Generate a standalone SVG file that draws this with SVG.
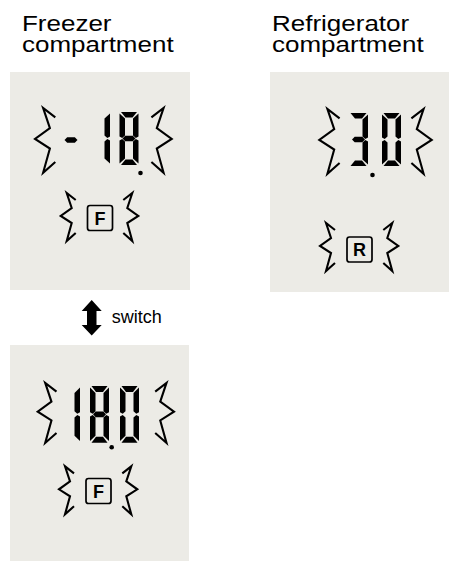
<svg xmlns="http://www.w3.org/2000/svg" xmlns:xlink="http://www.w3.org/1999/xlink" width="449" height="561" viewBox="0 0 449 561">
<style>
.panel{fill:#ecebe6;stroke:none}
.head{font-family:"Liberation Sans",Arial,sans-serif;font-size:22.6px;fill:#000}
.lbl{font-family:"Liberation Sans",Arial,sans-serif;font-size:18px;fill:#000}
.zig{fill:none;stroke:#000;stroke-width:2.1;stroke-linejoin:miter;stroke-miterlimit:10}
.box{fill:none;stroke:#000;stroke-width:1.7}
.key{font-family:"Liberation Sans",Arial,sans-serif;font-size:18px;font-weight:bold;fill:#000;text-anchor:middle}
.seg{fill:#000}
</style>
<defs>
<path id="sa" class="seg" d="M1.5,0 H17.5 L13,5.5 H6 Z"/>
<path id="sd" class="seg" d="M1.5,53 H17.5 L13,47.5 H6 Z"/>
<path id="sf" class="seg" d="M0,1.5 L5.5,6.5 V23.5 L2.7,26 L0,24.5 Z"/>
<path id="se" class="seg" d="M0,28.5 L2.7,27 L5.5,29.5 V46.5 L0,51.5 Z"/>
<path id="sb" class="seg" d="M19,1.5 L13.5,6.5 V23.5 L16.3,26 L19,24.5 Z"/>
<path id="sc" class="seg" d="M19,28.5 L16.3,27 L13.5,29.5 V46.5 L19,51.5 Z"/>
<path id="sg" class="seg" d="M3,26.5 L5.7,23.8 H13.3 L16,26.5 L13.3,29.2 H5.7 Z"/>
<g id="d1"><use href="#sb"/><use href="#sc"/></g>
<g id="d8"><use href="#sa"/><use href="#sb"/><use href="#sc"/><use href="#sd"/><use href="#se"/><use href="#sf"/><use href="#sg"/></g>
<g id="d0"><use href="#sa"/><use href="#sb"/><use href="#sc"/><use href="#sd"/><use href="#se"/><use href="#sf"/></g>
<g id="d3"><use href="#sa"/><use href="#sb"/><use href="#sc"/><use href="#sd"/><use href="#sg"/></g>
</defs>

<g id="freezer-title">
<text class="head" transform="translate(22,30.5) scale(1.15,1)"><tspan x="0" y="0">Freezer</tspan><tspan x="0" y="22">compartment</tspan></text>
</g>
<g id="fridge-title">
<text class="head" transform="translate(272,30.5) scale(1.15,1)"><tspan x="0" y="0">Refrigerator</tspan><tspan x="0" y="22">compartment</tspan></text>
</g>

<g id="freezer-panel">
<rect class="panel" x="10" y="72" width="180" height="218"/>
<polyline class="zig" points="55.3,117.4 43.1,107.9 49.9,128.2 35,139 49.9,148.5 43.1,172.8 55.3,162"/>
<polyline class="zig" points="151.4,117.4 163.6,107.9 156.8,128.2 171.7,139 156.8,148.5 163.6,172.8 151.4,162"/>
<use href="#sg" transform="translate(61.5,113.5)"/>
<use href="#d1" transform="translate(91,112)"/>
<use href="#d8" transform="translate(119.5,112)"/>
<circle cx="140.5" cy="173" r="2.3"/>
<polyline class="zig" points="75.7,200 66.7,193 71.7,208 60.7,216 71.7,223 66.7,241 75.7,233"/>
<polyline class="zig" points="123.3,200 132.3,193 127.3,208 138.3,216 127.3,223 132.3,241 123.3,233"/>
<rect class="box" x="87.5" y="205.5" width="25" height="25" rx="2.5"/>
<text class="key" x="100" y="224.5">F</text>
</g>

<g id="fridge-panel">
<rect class="panel" x="270" y="72" width="179" height="220"/>
<polyline class="zig" points="339.6,118.4 327.4,108.9 334.2,129.2 319.3,140 334.2,149.5 327.4,173.8 339.6,163"/>
<polyline class="zig" points="411.4,118.4 423.6,108.9 416.8,129.2 431.7,140 416.8,149.5 423.6,173.8 411.4,163"/>
<use href="#d3" transform="translate(349,113)"/>
<use href="#d0" transform="translate(382,113)"/>
<circle cx="372.5" cy="175" r="2.3"/>
<polyline class="zig" points="335,230 326,223 331,238 320,246 331,253 326,271 335,263"/>
<polyline class="zig" points="383.3,230 392.3,223 387.3,238 398.3,246 387.3,253 392.3,271 383.3,263"/>
<rect class="box" x="347" y="237" width="25" height="25" rx="2.5"/>
<text class="key" x="359.5" y="256">R</text>
</g>

<g id="freezer-panel-switched">
<rect class="panel" x="10" y="345" width="179" height="216"/>
<polyline class="zig" points="56.5,391.7 45.2,382.95 51.45,401.7 37.7,411.7 51.45,420.45 45.2,442.95 56.5,432.95"/>
<polyline class="zig" points="155.2,391.7 166.5,382.95 160.25,401.7 174,411.7 160.25,420.45 166.5,442.95 155.2,432.95"/>
<use href="#d1" transform="translate(61,386) scale(1,1.07)"/>
<use href="#d8" transform="translate(90,386) scale(1,1.07)"/>
<use href="#d0" transform="translate(120,386) scale(1,1.07)"/>
<circle cx="111.7" cy="447.3" r="2.3"/>
<polyline class="zig" points="74,473.3 65,466.3 70,481.3 59,489.3 70,496.3 65,514.3 74,506.3"/>
<polyline class="zig" points="122.3,473.3 131.3,466.3 126.3,481.3 137.3,489.3 126.3,496.3 131.3,514.3 122.3,506.3"/>
<rect class="box" x="86" y="478.5" width="25" height="25" rx="2.5"/>
<text class="key" x="98.5" y="497.5">F</text>
</g>

<g id="connectors">
<path d="M91.7,300 L101.7,311 H96.5 V325 H101.7 L91.7,335.5 L81.7,325 H87 V311 H81.7 Z" fill="#000"/>
<text class="lbl" x="111.7" y="323">switch</text>
</g>
</svg>
